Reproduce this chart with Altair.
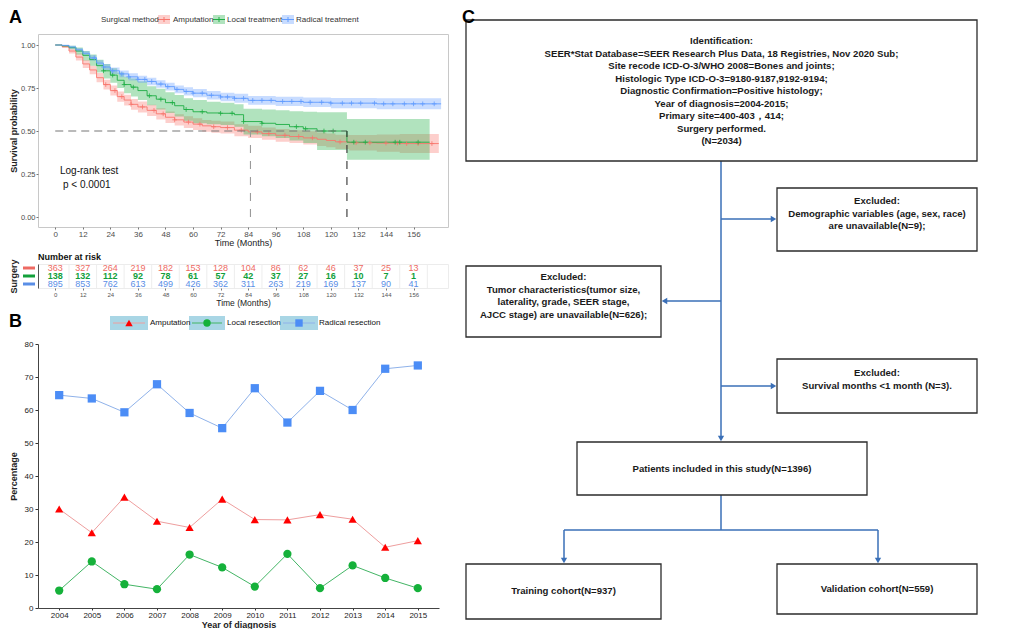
import bisect
import altair as alt
import pandas as pd

FONT = "Liberation Sans"

# ---------------- Panel A: Kaplan-Meier curves ----------------
km_groups = ["Amputation", "Local treatment", "Radical treatment"]
km_colors = ["#F8766D", "#1FAE45", "#619CFF"]
risk_text_colors = ["#EE6A63", "#12A03A", "#5A8EE6"]

amp_time = [0, 3, 6, 9, 12, 15, 18, 21, 24, 27, 30, 33, 36, 40, 44, 48, 52, 56, 60, 64,
            68, 72, 78, 84, 90, 96, 102, 108, 114, 118, 122, 128, 140, 150, 167]
amp_surv = [1.0, 0.99, 0.965, 0.93, 0.89, 0.855, 0.81, 0.77, 0.735, 0.70, 0.68, 0.655, 0.64,
            0.62, 0.60, 0.58, 0.565, 0.552, 0.54, 0.53, 0.525, 0.52, 0.505, 0.495, 0.485,
            0.475, 0.468, 0.46, 0.452, 0.445, 0.437, 0.432, 0.43, 0.427, 0.427]
amp_halfwidth = [0, 0.008, 0.015, 0.02, 0.023, 0.025, 0.027, 0.028, 0.029, 0.03, 0.031, 0.031,
                 0.032, 0.032, 0.033, 0.033, 0.033, 0.034, 0.034, 0.034, 0.035, 0.035, 0.035,
                 0.036, 0.036, 0.037, 0.037, 0.038, 0.039, 0.04, 0.041, 0.045, 0.05, 0.055, 0.06]
amp_censor = [22, 26, 29, 33, 38, 43, 47, 52, 58, 63, 69, 75, 81, 88, 93, 100, 106, 112,
              124, 131, 137, 144, 149, 153, 158, 164]

loc_time = [0, 3, 6, 9, 12, 15, 18, 21, 24, 27, 30, 33, 36, 40, 44, 48, 52, 56, 60, 66,
            72, 78, 82, 90, 96, 102, 108, 114, 127, 163]
loc_surv = [1.0, 0.995, 0.985, 0.965, 0.94, 0.915, 0.88, 0.85, 0.825, 0.795, 0.77, 0.755,
            0.735, 0.705, 0.685, 0.665, 0.647, 0.625, 0.612, 0.605, 0.603, 0.595, 0.555,
            0.545, 0.538, 0.525, 0.513, 0.5, 0.435, 0.435]
loc_lower = [1.0, 0.99, 0.975, 0.945, 0.91, 0.88, 0.84, 0.805, 0.78, 0.75, 0.72, 0.70, 0.68,
             0.65, 0.625, 0.605, 0.585, 0.56, 0.545, 0.54, 0.535, 0.525, 0.48, 0.47, 0.46,
             0.445, 0.43, 0.39, 0.333, 0.333]
loc_upper = [1.0, 1.0, 0.995, 0.985, 0.965, 0.945, 0.915, 0.89, 0.865, 0.84, 0.815, 0.805,
             0.79, 0.76, 0.745, 0.725, 0.71, 0.69, 0.68, 0.67, 0.665, 0.655, 0.63, 0.625,
             0.62, 0.615, 0.612, 0.609, 0.57, 0.57]
loc_censor = [21, 25, 30, 34, 41, 46, 51, 57, 64, 72, 77, 82, 90, 105, 109, 117, 121, 130,
              135, 148, 150, 158]

rad_time = [0, 3, 6, 9, 12, 15, 18, 21, 24, 28, 32, 36, 40, 44, 48, 52, 56, 60, 66, 72,
            78, 84, 96, 108, 120, 140, 168]
rad_surv = [1.0, 0.998, 0.988, 0.972, 0.952, 0.925, 0.895, 0.872, 0.85, 0.832, 0.815, 0.80,
            0.788, 0.773, 0.758, 0.742, 0.73, 0.72, 0.708, 0.698, 0.69, 0.678, 0.672, 0.667,
            0.662, 0.658, 0.658]
rad_halfwidth = [0, 0.004, 0.008, 0.011, 0.013, 0.015, 0.017, 0.018, 0.019, 0.02, 0.021,
                 0.021, 0.022, 0.022, 0.023, 0.023, 0.024, 0.024, 0.025, 0.025, 0.026, 0.026,
                 0.027, 0.028, 0.03, 0.032, 0.033]
rad_censor = [17, 21, 25, 29, 32, 36, 39, 42, 46, 49, 53, 57, 60, 64, 68, 72, 75, 78, 82, 86,
              90, 94, 99, 103, 107, 111, 116, 120, 125, 129, 133, 139, 143, 147, 152, 156,
              160, 165]

median_times = [85, 127]
median_level = 0.5

risk_times = [0, 12, 24, 36, 48, 60, 72, 84, 96, 108, 120, 132, 144, 156]
amp_risk = [363, 327, 264, 219, 182, 153, 128, 104, 86, 62, 46, 37, 25, 13]
loc_risk = [138, 132, 112, 92, 78, 61, 57, 42, 37, 27, 16, 10, 7, 1]
rad_risk = [895, 853, 762, 613, 499, 426, 362, 311, 263, 219, 169, 137, 90, 41]

# ---------------- Panel B: percentages by year ----------------
years = [2004, 2005, 2006, 2007, 2008, 2009, 2010, 2011, 2012, 2013, 2014, 2015]
b_groups = ["Amputation", "Local resection", "Radical resection"]
amp_pct = [30.0, 22.8, 33.6, 26.3, 24.4, 33.0, 26.8, 26.7, 28.3, 26.9, 18.4, 20.4]
loc_pct = [5.3, 14.1, 7.2, 5.7, 16.2, 12.3, 6.5, 16.4, 6.0, 12.9, 9.1, 6.0]
rad_pct = [64.5, 63.5, 59.3, 67.8, 59.1, 54.5, 66.6, 56.2, 65.8, 60.0, 72.5, 73.5]
b_line_colors = ["#EE9E9E", "#43B565", "#8FB2EA"]
b_point_colors = ["#FF0000", "#15B13A", "#4C8DF6"]
b_shapes = ["triangle-up", "circle", "square"]

# ---------------- Build tables ----------------
km_col = dict(zip(km_groups, km_colors))
risk_col = dict(zip(km_groups, risk_text_colors))


def km_frame(name, t, s, lo, hi):
    return pd.DataFrame({"group": name, "time": t, "surv": s, "lo": lo, "hi": hi})


km = pd.concat([
    km_frame(km_groups[0], amp_time, amp_surv,
             [s - h for s, h in zip(amp_surv, amp_halfwidth)],
             [min(1.0, s + h) for s, h in zip(amp_surv, amp_halfwidth)]),
    km_frame(km_groups[1], loc_time, loc_surv, loc_lower, loc_upper),
    km_frame(km_groups[2], rad_time, rad_surv,
             [s - h for s, h in zip(rad_surv, rad_halfwidth)],
             [min(1.0, s + h) for s, h in zip(rad_surv, rad_halfwidth)]),
], ignore_index=True)
km["c"] = km["group"].map(km_col)


def censor_rows(name, times, t, s):
    return [{"group": name, "time": c, "surv": s[bisect.bisect_right(t, c) - 1]} for c in times]


censor = pd.DataFrame(
    censor_rows(km_groups[0], amp_censor, amp_time, amp_surv)
    + censor_rows(km_groups[1], loc_censor, loc_time, loc_surv)
    + censor_rows(km_groups[2], rad_censor, rad_time, rad_surv)
)
censor["c"] = censor["group"].map(km_col)

risk = pd.concat([
    pd.DataFrame({"group": km_groups[0], "time": risk_times, "n": amp_risk}),
    pd.DataFrame({"group": km_groups[1], "time": risk_times, "n": loc_risk}),
    pd.DataFrame({"group": km_groups[2], "time": risk_times, "n": rad_risk}),
], ignore_index=True)
risk["c"] = risk["group"].map(risk_col)

pct = pd.concat([
    pd.DataFrame({"group": b_groups[0], "year": years, "pct": amp_pct}),
    pd.DataFrame({"group": b_groups[1], "year": years, "pct": loc_pct}),
    pd.DataFrame({"group": b_groups[2], "year": years, "pct": rad_pct}),
], ignore_index=True)
pct["lc"] = pct["group"].map(dict(zip(b_groups, b_line_colors)))
pct["pc"] = pct["group"].map(dict(zip(b_groups, b_point_colors)))
pct["shp"] = pct["group"].map(dict(zip(b_groups, b_shapes)))

one = pd.DataFrame({"k": [0]})

# ---------------- Panel A chart ----------------
A_W, A_H = 410, 193
x_dom = [-7.5, 171]
y_dom = [-0.058, 1.064]


def xa(field="time:Q"):
    return alt.X(field, scale=alt.Scale(domain=x_dom, nice=False, zero=False),
                 axis=alt.Axis(values=risk_times, grid=False, domain=False, tickSize=2,
                               tickColor="#777", labelFontSize=8, labelColor="#4d4d4d",
                               labelPadding=1, labelOverlap=False, title="Time (Months)",
                               titleFontSize=9, titleFontWeight="normal", titleColor="#222",
                               titlePadding=0))


def ya(field):
    return alt.Y(field, scale=alt.Scale(domain=y_dom, nice=False, zero=False),
                 axis=alt.Axis(values=[0, 0.25, 0.5, 0.75, 1.0], format=".2f", grid=False,
                               domain=False, tickSize=2, tickColor="#777", labelFontSize=7.5,
                               labelColor="#4d4d4d", labelPadding=1, labelOverlap=False,
                               minExtent=18, maxExtent=18, title="Survival probability",
                               titleFontSize=9, titleFontWeight="bold", titleColor="#222",
                               titlePadding=2))


km_color = alt.Color("c:N", scale=None)

bands = alt.Chart(km).mark_area(interpolate="step-after", opacity=0.35).encode(
    x=xa(), y=ya("lo:Q"), y2="hi:Q", color=km_color, detail="group:N")
curves = alt.Chart(km).mark_line(interpolate="step-after", strokeWidth=0.9).encode(
    x=xa(), y=ya("surv:Q"), color=km_color, detail="group:N")
marks = alt.Chart(censor).mark_point(shape="M-1,0L1,0M0,-1L0,1", size=22, filled=False,
                                     strokeWidth=0.8, opacity=1).encode(
    x=xa(), y=ya("surv:Q"), color=km_color)

med_h = alt.Chart(pd.DataFrame({"t0": [0], "t1": [max(median_times)], "s": [median_level]})).mark_rule(
    color="#777", strokeWidth=1.1, strokeDash=[8, 5]).encode(
    x=xa("t0:Q"), x2="t1:Q", y=ya("s:Q"))
med_v = alt.Chart(pd.DataFrame({"t": median_times, "s0": [0, 0], "s1": [median_level] * 2,
                                "c": ["#9a9a9a", "#333333"]})).mark_rule(
    strokeWidth=1.1, strokeDash=[8, 8]).encode(
    x=xa("t:Q"), y=ya("s0:Q"), y2="s1:Q", color=alt.Color("c:N", scale=None))

logrank = [
    alt.Chart(one).mark_text(text="Log-rank test", fontSize=10, align="left", baseline="middle",
                             color="#111").encode(x=alt.value(22), y=alt.value(137)),
    alt.Chart(one).mark_text(text="p < 0.0001", fontSize=10, align="left", baseline="middle",
                             color="#111").encode(x=alt.value(25), y=alt.value(151)),
]

legA_keys, legA_text = [], [alt.Chart(one).mark_text(
    text="Surgical method", fontSize=8, align="left", baseline="middle", color="#333").encode(
    x=alt.value(63), y=alt.value(-14))]
for kx, lx, name, col in zip([120, 175, 244], [135, 189, 258], km_groups, km_colors):
    legA_keys.append(alt.Chart(one).mark_rect(color=col, opacity=0.35).encode(
        x=alt.value(kx), x2=alt.value(kx + 12), y=alt.value(-19), y2=alt.value(-10)))
    legA_keys.append(alt.Chart(one).mark_rule(color=col, strokeWidth=1).encode(
        x=alt.value(kx), x2=alt.value(kx + 12), y=alt.value(-14.5)))
    legA_keys.append(alt.Chart(one).mark_rule(color=col, strokeWidth=1).encode(
        x=alt.value(kx + 6), y=alt.value(-17), y2=alt.value(-12)))
    legA_text.append(alt.Chart(one).mark_text(text=name, fontSize=8, align="left",
                                              baseline="middle", color="#333").encode(
        x=alt.value(lx), y=alt.value(-14)))

letterA = alt.Chart(one).mark_text(text="A", fontSize=18, fontWeight="bold", align="left",
                                   baseline="top", color="#000").encode(
    x=alt.value(-29), y=alt.value(-25))

chartA = alt.layer(bands, curves, marks, med_h, med_v, *logrank, *legA_keys, *legA_text,
                   letterA).properties(
    width=A_W, height=A_H, view=alt.ViewBackground(stroke="#c8c8c8", strokeWidth=1))

# ---------------- Risk table ----------------
risk_x = alt.X("time:Q", scale=alt.Scale(domain=x_dom, nice=False, zero=False),
               axis=alt.Axis(values=risk_times, grid=False, domain=False, tickSize=2,
                             tickColor="#777", labelFontSize=6, labelColor="#555", labelPadding=1,
                             labelOverlap=False, title="Time (Months)", titleFontSize=8.5,
                             titleFontWeight="normal", titleColor="#222", titlePadding=1))
risk_y = alt.Y("group:N", scale=alt.Scale(domain=km_groups, paddingInner=0, paddingOuter=0),
               axis=alt.Axis(labels=False, ticks=False, domain=True, domainColor="#555",
                             minExtent=18, maxExtent=18, title="Surgery", titleFontSize=9,
                             titleFontWeight="bold", titleColor="#222", titlePadding=2))
risk_color = alt.Color("c:N", scale=None)

risk_grid = alt.Chart(pd.DataFrame({"time": [t + 6 for t in risk_times]})).mark_rule(
    color="#ededed", strokeWidth=1).encode(x=risk_x)
risk_txt = alt.Chart(risk).transform_filter(alt.datum.group != km_groups[1]).mark_text(
    fontSize=9).encode(x=risk_x, y=risk_y, text="n:Q", color=risk_color)
risk_txt_bold = alt.Chart(risk).transform_filter(alt.datum.group == km_groups[1]).mark_text(
    fontSize=9, fontWeight="bold").encode(x=risk_x, y=risk_y, text="n:Q", color=risk_color)
risk_keys_df = pd.DataFrame({"group": km_groups, "c": risk_text_colors})
risk_keys = alt.Chart(risk_keys_df).mark_rule(strokeWidth=3).encode(
    x=alt.value(-15), x2=alt.value(-3), y=risk_y, color=risk_color)
risk_title = alt.Chart(one).mark_text(text="Number at risk", fontSize=9, fontWeight="bold",
                                      align="left", baseline="middle", color="#111").encode(
    x=alt.value(0), y=alt.value(-7))

chartRisk = alt.layer(risk_grid, risk_txt, risk_txt_bold, risk_keys, risk_title).properties(
    width=A_W, height=24, view=alt.ViewBackground(stroke="#ececec", strokeWidth=1))

# ---------------- Panel B ----------------
B_W, B_H = 401, 264
xb = alt.X("year:Q", scale=alt.Scale(domain=[2003.35, 2015.65], nice=False, zero=False),
           axis=alt.Axis(values=years, format="d", grid=False, tickSize=2, tickColor="#333",
                         domainColor="#444", labelFontSize=8, labelColor="#222", labelPadding=1,
                         labelOverlap=False, title="Year of diagnosis", titleFontSize=9,
                         titleFontWeight="bold", titleColor="#222", titlePadding=1))
yb = alt.Y("pct:Q", scale=alt.Scale(domain=[0, 80], nice=False),
           axis=alt.Axis(values=list(range(0, 81, 10)), grid=False, tickSize=3,
                         tickColor="#333", domainColor="#444", labelFontSize=8,
                         labelColor="#222", labelPadding=2, labelOverlap=False, minExtent=18,
                         maxExtent=18, title="Percentage", titleFontSize=9,
                         titleFontWeight="bold", titleColor="#222", titlePadding=2))

b_lines = alt.Chart(pct).mark_line(strokeWidth=1).encode(
    x=xb, y=yb, color=alt.Color("lc:N", scale=None), detail="group:N")
b_pts = alt.Chart(pct).mark_point(filled=True, size=68, opacity=1).encode(
    x=xb, y=yb, color=alt.Color("pc:N", scale=None), shape=alt.Shape("shp:N", scale=None))

legB_box, legB_key, legB_txt = [], [], []
for (bx1, bx2), lx, name, lc, pc, shp in zip([(72, 110), (151, 187), (242, 280)],
                                             [112, 189, 281], b_groups, b_line_colors,
                                             b_point_colors, b_shapes):
    cx = (bx1 + bx2) / 2
    legB_box.append(alt.Chart(one).mark_rect(color="#A9D6E5").encode(
        x=alt.value(bx1), x2=alt.value(bx2), y=alt.value(-28), y2=alt.value(-14)))
    legB_key.append(alt.Chart(one).mark_rule(color=lc, strokeWidth=1).encode(
        x=alt.value(bx1 + 3), x2=alt.value(bx2 - 3), y=alt.value(-21)))
    legB_key.append(alt.Chart(one).mark_point(shape=shp, filled=True, size=55, color=pc,
                                              opacity=1).encode(x=alt.value(cx), y=alt.value(-21)))
    legB_txt.append(alt.Chart(one).mark_text(text=name, fontSize=8, align="left",
                                             baseline="middle", color="#111").encode(
        x=alt.value(lx), y=alt.value(-21)))

letterB = alt.Chart(one).mark_text(text="B", fontSize=18, fontWeight="bold", align="left",
                                   baseline="top", color="#000").encode(
    x=alt.value(-29), y=alt.value(-31))

chartB = alt.layer(b_lines, b_pts, *legB_box, *legB_key, *legB_txt, letterB).properties(
    width=B_W, height=B_H)

# ---------------- Panel C: flowchart (layout in pixels) ----------------
FC_DY = -25
box_edges = [
    (5, 11, 516, 152),     # identification
    (316, 179, 516, 242),  # demographic
    (5, 257, 200, 328),    # tumor
    (316, 350, 516, 404),  # survival months
    (116, 433, 406, 486),  # included
    (5, 555, 200, 610),    # training
    (316, 555, 516, 605),  # validation
]
box_lines = [
    ["Identification:",
     "SEER*Stat Database=SEER Research Plus Data, 18 Registries, Nov 2020 Sub;",
     "Site recode ICD-O-3/WHO 2008=Bones and joints;",
     "Histologic Type ICD-O-3=9180-9187,9192-9194;",
     "Diagnostic Confirmation=Positive histology;",
     "Year of diagnosis=2004-2015;",
     "Primary site=400-403，414;",
     "Surgery performed.",
     "(N=2034)"],
    ["Excluded:", "Demographic variables (age, sex, race)", "are unavailable(N=9);"],
    ["Excluded:", "Tumor characteristics(tumor size,", "laterality, grade, SEER stage,",
     "AJCC stage) are unavailable(N=626);"],
    ["Excluded:", "Survival months <1 month (N=3)."],
    ["Patients included in this study(N=1396)"],
    ["Training cohort(N=937)"],
    ["Validation cohort(N=559)"],
]
first_line_y = [32, 192, 268, 364, 460, 582, 580]
line_gap = 12.5

boxes_df = pd.DataFrame([(x1, y1 + FC_DY, x2, y2 + FC_DY) for x1, y1, x2, y2 in box_edges],
                        columns=["x1", "y1", "x2", "y2"])
txt_rows = []
for (x1, y1, x2, y2), lines, fy in zip(box_edges, box_lines, first_line_y):
    for i, ln in enumerate(lines):
        txt_rows.append({"text": ln, "x": (x1 + x2) / 2, "y": fy + i * line_gap + FC_DY})
txt_df = pd.DataFrame(txt_rows)

seg_list = [(260, 152, 260, 428), (260, 210, 311, 210), (260, 292, 205, 292),
            (260, 377, 311, 377), (260, 486, 260, 521), (103, 521, 417, 521),
            (103, 521, 103, 550), (417, 521, 417, 550)]
segments = pd.DataFrame([(a, b + FC_DY, c, d + FC_DY) for a, b, c, d in seg_list],
                        columns=["x1", "y1", "x2", "y2"])
head_list = [(260, 429.5, "triangle-down"), (312.5, 210, "triangle-right"),
             (203.5, 292, "triangle-left"), (312.5, 377, "triangle-right"),
             (103, 551.5, "triangle-down"), (417, 551.5, "triangle-down")]
heads = pd.DataFrame([(a, b + FC_DY, s) for a, b, s in head_list], columns=["x", "y", "shape"])

ARROW = "#3A6FB7"
fx1 = alt.X("x1:Q", scale=None, axis=None)
fy1 = alt.Y("y1:Q", scale=None, axis=None)
fc_boxes = alt.Chart(boxes_df).mark_rect(fill="white", stroke="#2b2b2b", strokeWidth=1.3).encode(
    x=fx1, x2="x2:Q", y=fy1, y2="y2:Q")
fc_text = alt.Chart(txt_df).mark_text(fontSize=9.6, fontWeight="bold", color="#1a1a1a",
                                      align="center", baseline="middle").encode(
    x=alt.X("x:Q", scale=None, axis=None), y=alt.Y("y:Q", scale=None, axis=None), text="text:N")
fc_lines = alt.Chart(segments).mark_rule(color=ARROW, strokeWidth=1.5).encode(
    x=fx1, x2="x2:Q", y=fy1, y2="y2:Q")
fc_heads = alt.Chart(heads).mark_point(filled=True, size=40, color=ARROW, opacity=1).encode(
    x=alt.X("x:Q", scale=None, axis=None), y=alt.Y("y:Q", scale=None, axis=None),
    shape=alt.Shape("shape:N", scale=None))
letterC = alt.Chart(one).mark_text(text="C", fontSize=18, fontWeight="bold", align="left",
                                   baseline="top", color="#000").encode(
    x=alt.value(1), y=alt.value(FC_DY))

chartC = alt.layer(fc_lines, fc_heads, fc_boxes, fc_text, letterC).properties(
    width=520, height=612 + FC_DY)

# ---------------- Assemble ----------------
left = alt.vconcat(alt.vconcat(chartA, chartRisk, spacing=4), chartB, spacing=6)
chart = alt.hconcat(left, chartC, spacing=12).properties(padding=0).configure_view(
    strokeWidth=0).configure_axis(labelFont=FONT, titleFont=FONT).configure_text(font=FONT)

chart.save("out.html", embed_options={"renderer": "svg", "actions": False})
